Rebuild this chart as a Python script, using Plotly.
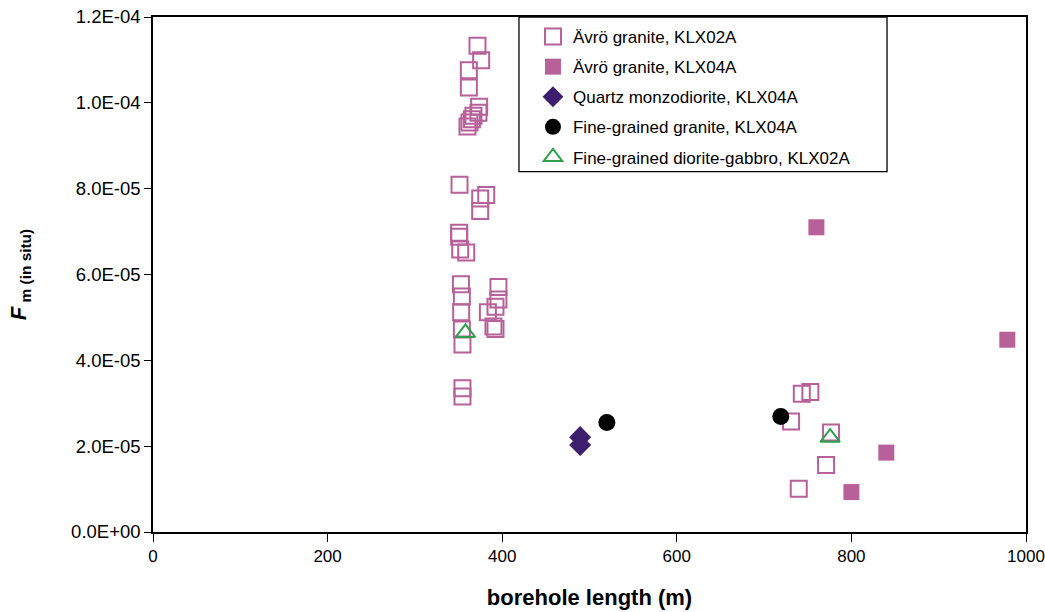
import plotly.graph_objects as go

# Ävrö granite, KLX02A (open squares)
avro02_x = [371.7, 375.9, 361.8, 361.8, 373.6, 372.8, 367.1, 365.3, 362.5, 360.2,
            351.1, 381.7, 374.8, 374.8, 350.7, 350.7, 351.9, 358.8, 352.7, 353.8,
            353.0, 353.8, 354.5, 395.7, 395.7, 392.3, 383.6, 390.0, 392.3, 354.5,
            354.5, 743.2, 753.0, 730.9, 776.7, 771.0, 739.7]
avro02_y = [1.133e-4, 1.099e-4, 1.076e-4, 1.036e-4, 9.91e-5, 9.77e-5, 9.70e-5, 9.62e-5, 9.54e-5, 9.45e-5,
            8.09e-5, 7.85e-5, 7.77e-5, 7.48e-5, 6.97e-5, 6.88e-5, 6.58e-5, 6.51e-5, 5.77e-5, 5.49e-5,
            5.12e-5, 4.72e-5, 4.37e-5, 5.71e-5, 5.42e-5, 5.25e-5, 5.12e-5, 4.79e-5, 4.73e-5, 3.35e-5,
            3.16e-5, 3.22e-5, 3.26e-5, 2.575e-5, 2.32e-5, 1.56e-5, 1.01e-5]

# Ävrö granite, KLX04A (filled squares)
avro04_x = [759.9, 978.6, 840.0, 800.0]
avro04_y = [7.10e-5, 4.48e-5, 1.85e-5, 9.3e-6]

# Quartz monzodiorite, KLX04A
qmd_x = [489.3, 489.3]
qmd_y = [2.21e-5, 2.03e-5]

# Fine-grained granite, KLX04A
fgg_x = [519.9, 719.1]
fgg_y = [2.55e-5, 2.69e-5]

# Fine-grained diorite-gabbro, KLX02A
fgdg_x = [357.9, 775.6]
fgdg_y = [4.64e-5, 2.20e-5]

y_tickvals = [0, 2e-5, 4e-5, 6e-5, 8e-5, 1e-4, 1.2e-4]
y_ticktext = ["0.0E+00", "2.0E-05", "4.0E-05", "6.0E-05", "8.0E-05", "1.0E-04", "1.2E-04"]
x_tickvals = [0, 200, 400, 600, 800, 1000]

PINK = "#b8609a"
FONT = "Arial, Liberation Sans, sans-serif"

fig = go.Figure()
fig.add_trace(go.Scatter(
    x=avro02_x, y=avro02_y, mode="markers", name="Ävrö granite, KLX02A", legendgroup="a",
    marker=dict(symbol="square-open", size=16, color=PINK, line=dict(width=2, color=PINK))))
fig.add_trace(go.Scatter(
    x=avro04_x, y=avro04_y, mode="markers", name="Ävrö granite, KLX04A", legendgroup="b",
    marker=dict(symbol="square", size=16, color=PINK, line=dict(width=0))))
fig.add_trace(go.Scatter(
    x=qmd_x, y=qmd_y, mode="markers", name="Quartz monzodiorite, KLX04A", legendgroup="c",
    marker=dict(symbol="diamond", size=17, color="#3d1f6e", line=dict(width=0))))
fig.add_trace(go.Scatter(
    x=fgg_x, y=fgg_y, mode="markers", name="Fine-grained granite, KLX04A", legendgroup="d",
    marker=dict(symbol="circle", size=17, color="black", line=dict(width=0))))
fig.add_trace(go.Scatter(
    x=fgdg_x, y=fgdg_y, mode="markers", name="Fine-grained diorite-gabbro, KLX02A", legendgroup="e",
    marker=dict(symbol="triangle-up-open", size=17, color="#2ca04a", line=dict(width=2, color="#2ca04a"))))

fig.update_layout(
    width=1045, height=612,
    margin=dict(l=153, r=19, t=17, b=80),
    paper_bgcolor="white", plot_bgcolor="white",
    font=dict(family=FONT, size=17, color="black"),
    legend=dict(
        x=0.4215, y=0.9961, xanchor="left", yanchor="top",
        borderwidth=0, bgcolor="rgba(0,0,0,0)",
        font=dict(size=17), tracegroupgap=5, traceorder="grouped",
        indentation=12,
    ),
    shapes=[dict(
        type="rect", xref="paper", yref="paper",
        x0=0.4192, x1=0.8408, y0=0.6996, y1=1.0,
        line=dict(color="black", width=1.3), fillcolor="white", layer="below",
    )],
    xaxis=dict(
        range=[0, 1000], tickvals=x_tickvals, showgrid=False, zeroline=False,
        showline=True, linecolor="black", linewidth=1.5, mirror=True,
        ticks="outside", ticklen=8, tickcolor="black", automargin=False,
        tickfont=dict(size=17),
        title=dict(text="<b>borehole length (m)</b>", font=dict(size=22), standoff=24),
    ),
    yaxis=dict(
        range=[0, 1.2e-4], tickvals=y_tickvals, ticktext=y_ticktext, showgrid=False, zeroline=False,
        showline=True, linecolor="black", linewidth=1.5, mirror=True,
        ticks="outside", ticklen=7, tickcolor="black", automargin=False,
        tickfont=dict(size=18.5),
        title=dict(text="<b><i>F</i></b><sub><b> m (in situ)</b></sub>", font=dict(size=22), standoff=38),
    ),
)

fig.write_html("out.html")
